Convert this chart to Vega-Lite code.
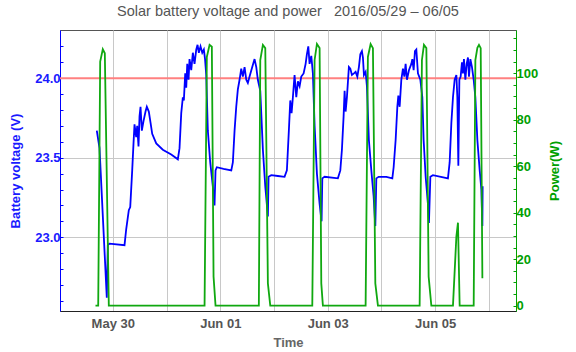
{
  "$schema": "https://vega.github.io/schema/vega-lite/v6.json",
  "width": 456,
  "height": 281,
  "autosize": "none",
  "padding": {"left": 60, "top": 30, "right": 60, "bottom": 41},
  "title": {
    "text": "Solar battery voltage and power \u00a0 2016/05/29 – 06/05",
    "fontSize": 14.5,
    "font": "Liberation Sans",
    "fontWeight": "normal",
    "color": "#555555",
    "offset": 11,
    "anchor": "middle",
    "frame": "group"
  },
  "config": {
    "font": "Liberation Sans",
    "view": {"stroke": "#555555", "strokeWidth": 1},
    "axis": {
      "labelFont": "Liberation Sans",
      "labelFontWeight": "bold",
      "labelFontSize": 13,
      "titleFont": "Liberation Sans",
      "titleFontWeight": "bold",
      "titleFontSize": 13,
      "gridColor": "#c8c8c8",
      "gridWidth": 1,
      "labelOverlap": false
    }
  },
  "datasets": {
    "voltage": [
      {"t": "2016-05-29T16:51Z", "v": 23.67},
      {"t": "2016-05-29T18:04Z", "v": 23.56},
      {"t": "2016-05-29T21:19Z", "v": 22.62},
      {"t": "2016-05-29T21:46Z", "v": 22.95},
      {"t": "2016-05-29T22:32Z", "v": 22.96},
      {"t": "2016-05-30T05:14Z", "v": 22.95},
      {"t": "2016-05-30T05:59Z", "v": 23.05},
      {"t": "2016-05-30T07:09Z", "v": 23.17},
      {"t": "2016-05-30T07:47Z", "v": 23.19},
      {"t": "2016-05-30T08:40Z", "v": 23.42},
      {"t": "2016-05-30T09:15Z", "v": 23.59},
      {"t": "2016-05-30T09:42Z", "v": 23.71},
      {"t": "2016-05-30T10:27Z", "v": 23.63},
      {"t": "2016-05-30T10:54Z", "v": 23.70},
      {"t": "2016-05-30T11:29Z", "v": 23.57},
      {"t": "2016-05-30T11:56Z", "v": 23.76},
      {"t": "2016-05-30T12:23Z", "v": 23.82},
      {"t": "2016-05-30T12:58Z", "v": 23.67},
      {"t": "2016-05-30T13:43Z", "v": 23.73},
      {"t": "2016-05-30T14:37Z", "v": 23.79},
      {"t": "2016-05-30T15:12Z", "v": 23.82},
      {"t": "2016-05-30T16:05Z", "v": 23.79},
      {"t": "2016-05-30T16:51Z", "v": 23.72},
      {"t": "2016-05-30T17:36Z", "v": 23.65},
      {"t": "2016-05-30T19:24Z", "v": 23.59},
      {"t": "2016-05-30T22:20Z", "v": 23.55},
      {"t": "2016-05-31T02:06Z", "v": 23.52},
      {"t": "2016-05-31T05:03Z", "v": 23.49},
      {"t": "2016-05-31T05:48Z", "v": 23.56},
      {"t": "2016-05-31T06:34Z", "v": 23.78},
      {"t": "2016-05-31T07:17Z", "v": 23.88},
      {"t": "2016-05-31T07:44Z", "v": 23.86},
      {"t": "2016-05-31T08:21Z", "v": 24.03},
      {"t": "2016-05-31T08:48Z", "v": 23.94},
      {"t": "2016-05-31T09:15Z", "v": 24.09},
      {"t": "2016-05-31T09:50Z", "v": 23.99},
      {"t": "2016-05-31T10:16Z", "v": 24.12},
      {"t": "2016-05-31T11:02Z", "v": 24.05},
      {"t": "2016-05-31T11:45Z", "v": 24.16},
      {"t": "2016-05-31T12:30Z", "v": 24.09},
      {"t": "2016-05-31T13:16Z", "v": 24.18},
      {"t": "2016-05-31T13:51Z", "v": 24.21},
      {"t": "2016-05-31T14:26Z", "v": 24.16},
      {"t": "2016-05-31T15:11Z", "v": 24.20},
      {"t": "2016-05-31T15:57Z", "v": 24.16},
      {"t": "2016-05-31T16:40Z", "v": 24.18},
      {"t": "2016-05-31T17:12Z", "v": 24.12},
      {"t": "2016-05-31T17:44Z", "v": 24.02},
      {"t": "2016-05-31T18:27Z", "v": 23.67},
      {"t": "2016-05-31T19:31Z", "v": 23.47},
      {"t": "2016-05-31T20:41Z", "v": 23.32},
      {"t": "2016-05-31T21:26Z", "v": 23.20},
      {"t": "2016-05-31T21:53Z", "v": 23.42},
      {"t": "2016-05-31T22:28Z", "v": 23.44},
      {"t": "2016-06-01T01:28Z", "v": 23.43},
      {"t": "2016-06-01T04:55Z", "v": 23.42},
      {"t": "2016-06-01T05:37Z", "v": 23.47},
      {"t": "2016-06-01T06:23Z", "v": 23.67},
      {"t": "2016-06-01T07:08Z", "v": 23.82},
      {"t": "2016-06-01T07:51Z", "v": 23.93},
      {"t": "2016-06-01T08:37Z", "v": 23.99},
      {"t": "2016-06-01T09:22Z", "v": 24.06},
      {"t": "2016-06-01T10:05Z", "v": 24.01},
      {"t": "2016-06-01T10:51Z", "v": 24.07},
      {"t": "2016-06-01T11:37Z", "v": 23.99},
      {"t": "2016-06-01T12:19Z", "v": 23.97},
      {"t": "2016-06-01T13:05Z", "v": 24.01},
      {"t": "2016-06-01T14:17Z", "v": 24.07},
      {"t": "2016-06-01T15:19Z", "v": 24.12},
      {"t": "2016-06-01T16:05Z", "v": 24.07},
      {"t": "2016-06-01T16:47Z", "v": 23.99},
      {"t": "2016-06-01T17:52Z", "v": 23.92},
      {"t": "2016-06-01T19:02Z", "v": 23.55},
      {"t": "2016-06-01T20:06Z", "v": 23.32},
      {"t": "2016-06-01T21:16Z", "v": 23.13},
      {"t": "2016-06-01T21:34Z", "v": 23.38},
      {"t": "2016-06-01T22:47Z", "v": 23.39},
      {"t": "2016-06-02T01:44Z", "v": 23.385},
      {"t": "2016-06-02T04:43Z", "v": 23.38},
      {"t": "2016-06-02T05:45Z", "v": 23.42},
      {"t": "2016-06-02T06:38Z", "v": 23.67},
      {"t": "2016-06-02T07:16Z", "v": 23.86},
      {"t": "2016-06-02T07:51Z", "v": 23.78},
      {"t": "2016-06-02T08:26Z", "v": 23.88},
      {"t": "2016-06-02T09:11Z", "v": 24.02},
      {"t": "2016-06-02T09:57Z", "v": 23.88},
      {"t": "2016-06-02T10:40Z", "v": 23.98},
      {"t": "2016-06-02T11:26Z", "v": 23.95},
      {"t": "2016-06-02T12:11Z", "v": 24.01},
      {"t": "2016-06-02T13:13Z", "v": 24.03},
      {"t": "2016-06-02T14:07Z", "v": 24.09},
      {"t": "2016-06-02T14:41Z", "v": 24.15},
      {"t": "2016-06-02T15:19Z", "v": 24.20},
      {"t": "2016-06-02T15:53Z", "v": 24.09},
      {"t": "2016-06-02T16:39Z", "v": 24.14},
      {"t": "2016-06-02T17:22Z", "v": 24.03},
      {"t": "2016-06-02T18:08Z", "v": 23.70},
      {"t": "2016-06-02T19:10Z", "v": 23.40},
      {"t": "2016-06-02T20:22Z", "v": 23.21},
      {"t": "2016-06-02T21:15Z", "v": 23.10},
      {"t": "2016-06-02T21:34Z", "v": 23.37},
      {"t": "2016-06-02T22:36Z", "v": 23.38},
      {"t": "2016-06-03T04:32Z", "v": 23.37},
      {"t": "2016-06-03T05:37Z", "v": 23.42},
      {"t": "2016-06-03T06:20Z", "v": 23.55},
      {"t": "2016-06-03T07:05Z", "v": 23.76},
      {"t": "2016-06-03T07:32Z", "v": 23.92},
      {"t": "2016-06-03T07:59Z", "v": 23.79},
      {"t": "2016-06-03T08:34Z", "v": 23.88},
      {"t": "2016-06-03T09:27Z", "v": 24.07},
      {"t": "2016-06-03T10:05Z", "v": 24.06},
      {"t": "2016-06-03T10:48Z", "v": 24.02},
      {"t": "2016-06-03T11:41Z", "v": 24.03},
      {"t": "2016-06-03T12:27Z", "v": 24.04},
      {"t": "2016-06-03T13:13Z", "v": 24.01},
      {"t": "2016-06-03T13:55Z", "v": 24.07},
      {"t": "2016-06-03T14:33Z", "v": 24.15},
      {"t": "2016-06-03T15:16Z", "v": 24.17},
      {"t": "2016-06-03T15:43Z", "v": 24.13},
      {"t": "2016-06-03T16:10Z", "v": 24.02},
      {"t": "2016-06-03T16:55Z", "v": 24.04},
      {"t": "2016-06-03T17:30Z", "v": 23.95},
      {"t": "2016-06-03T18:23Z", "v": 23.61},
      {"t": "2016-06-03T19:28Z", "v": 23.42},
      {"t": "2016-06-03T20:29Z", "v": 23.26},
      {"t": "2016-06-03T21:15Z", "v": 23.07},
      {"t": "2016-06-03T21:42Z", "v": 23.37},
      {"t": "2016-06-03T22:44Z", "v": 23.38},
      {"t": "2016-06-04T02:10Z", "v": 23.38},
      {"t": "2016-06-04T04:51Z", "v": 23.37},
      {"t": "2016-06-04T05:26Z", "v": 23.44},
      {"t": "2016-06-04T06:19Z", "v": 23.61},
      {"t": "2016-06-04T07:05Z", "v": 23.82},
      {"t": "2016-06-04T07:32Z", "v": 23.89},
      {"t": "2016-06-04T08:07Z", "v": 23.82},
      {"t": "2016-06-04T08:52Z", "v": 23.99},
      {"t": "2016-06-04T09:35Z", "v": 24.06},
      {"t": "2016-06-04T10:13Z", "v": 24.01},
      {"t": "2016-06-04T10:47Z", "v": 24.09},
      {"t": "2016-06-04T11:22Z", "v": 23.99},
      {"t": "2016-06-04T12:16Z", "v": 24.05},
      {"t": "2016-06-04T13:20Z", "v": 24.09},
      {"t": "2016-06-04T13:47Z", "v": 24.12},
      {"t": "2016-06-04T14:22Z", "v": 24.05},
      {"t": "2016-06-04T14:57Z", "v": 24.17},
      {"t": "2016-06-04T15:34Z", "v": 24.18},
      {"t": "2016-06-04T16:17Z", "v": 24.03},
      {"t": "2016-06-04T17:22Z", "v": 23.99},
      {"t": "2016-06-04T18:15Z", "v": 23.88},
      {"t": "2016-06-04T18:50Z", "v": 23.61},
      {"t": "2016-06-04T19:44Z", "v": 23.38},
      {"t": "2016-06-04T20:45Z", "v": 23.21},
      {"t": "2016-06-04T21:12Z", "v": 23.09},
      {"t": "2016-06-04T21:50Z", "v": 23.38},
      {"t": "2016-06-04T22:59Z", "v": 23.39},
      {"t": "2016-06-05T05:41Z", "v": 23.37},
      {"t": "2016-06-05T06:27Z", "v": 23.47},
      {"t": "2016-06-05T07:13Z", "v": 23.72},
      {"t": "2016-06-05T07:56Z", "v": 23.88},
      {"t": "2016-06-05T08:41Z", "v": 23.99},
      {"t": "2016-06-05T09:27Z", "v": 24.02},
      {"t": "2016-06-05T09:53Z", "v": 23.88},
      {"t": "2016-06-05T10:20Z", "v": 23.45},
      {"t": "2016-06-05T10:47Z", "v": 23.99},
      {"t": "2016-06-05T11:22Z", "v": 24.01},
      {"t": "2016-06-05T11:57Z", "v": 24.10},
      {"t": "2016-06-05T12:23Z", "v": 24.03},
      {"t": "2016-06-05T12:50Z", "v": 24.12},
      {"t": "2016-06-05T13:28Z", "v": 23.99},
      {"t": "2016-06-05T14:03Z", "v": 24.09},
      {"t": "2016-06-05T14:38Z", "v": 24.13},
      {"t": "2016-06-05T15:05Z", "v": 24.01},
      {"t": "2016-06-05T15:42Z", "v": 24.12},
      {"t": "2016-06-05T16:25Z", "v": 24.07},
      {"t": "2016-06-05T17:11Z", "v": 23.99},
      {"t": "2016-06-05T17:56Z", "v": 23.88},
      {"t": "2016-06-05T18:50Z", "v": 23.61},
      {"t": "2016-06-05T19:52Z", "v": 23.42},
      {"t": "2016-06-05T20:37Z", "v": 23.30},
      {"t": "2016-06-05T21:04Z", "v": 23.07},
      {"t": "2016-06-05T21:11Z", "v": 23.32}
    ],
    "power": [
      {"t": "2016-05-29T16:16Z", "w": 0},
      {"t": "2016-05-29T17:29Z", "w": 0},
      {"t": "2016-05-29T18:22Z", "w": 105},
      {"t": "2016-05-29T19:32Z", "w": 110.3},
      {"t": "2016-05-29T20:26Z", "w": 108.6},
      {"t": "2016-05-29T22:13Z", "w": 0},
      {"t": "2016-05-31T16:59Z", "w": 0},
      {"t": "2016-05-31T18:00Z", "w": 107},
      {"t": "2016-05-31T19:13Z", "w": 112.2},
      {"t": "2016-05-31T20:14Z", "w": 111.4},
      {"t": "2016-05-31T21:00Z", "w": 12.5},
      {"t": "2016-05-31T21:53Z", "w": 0},
      {"t": "2016-06-01T17:14Z", "w": 0},
      {"t": "2016-06-01T17:52Z", "w": 105.7},
      {"t": "2016-06-01T19:02Z", "w": 112.2},
      {"t": "2016-06-01T20:06Z", "w": 110.8},
      {"t": "2016-06-01T21:16Z", "w": 9.6},
      {"t": "2016-06-01T22:20Z", "w": 0},
      {"t": "2016-06-02T17:06Z", "w": 0},
      {"t": "2016-06-02T18:08Z", "w": 105.7},
      {"t": "2016-06-02T19:10Z", "w": 112.6},
      {"t": "2016-06-02T20:22Z", "w": 110.8},
      {"t": "2016-06-02T21:07Z", "w": 9.6},
      {"t": "2016-06-02T21:50Z", "w": 0},
      {"t": "2016-06-03T16:55Z", "w": 0},
      {"t": "2016-06-03T17:56Z", "w": 107},
      {"t": "2016-06-03T19:09Z", "w": 112.6},
      {"t": "2016-06-03T20:11Z", "w": 110.8},
      {"t": "2016-06-03T21:15Z", "w": 9.6},
      {"t": "2016-06-03T22:25Z", "w": 0},
      {"t": "2016-06-04T17:03Z", "w": 0},
      {"t": "2016-06-04T18:04Z", "w": 105.7},
      {"t": "2016-06-04T18:58Z", "w": 112.2},
      {"t": "2016-06-04T20:03Z", "w": 110.8},
      {"t": "2016-06-04T21:04Z", "w": 12.5},
      {"t": "2016-06-04T22:16Z", "w": 0},
      {"t": "2016-06-05T07:56Z", "w": 0},
      {"t": "2016-06-05T09:27Z", "w": 29.7},
      {"t": "2016-06-05T10:10Z", "w": 35.7},
      {"t": "2016-06-05T10:55Z", "w": 0},
      {"t": "2016-06-05T17:11Z", "w": 0},
      {"t": "2016-06-05T17:56Z", "w": 105.7},
      {"t": "2016-06-05T18:50Z", "w": 110.9},
      {"t": "2016-06-05T19:33Z", "w": 112.2},
      {"t": "2016-06-05T20:19Z", "w": 110.8},
      {"t": "2016-06-05T21:04Z", "w": 11.8}
    ]
  },
  "layer": [
    {
      "layer": [
        {
          "data": {"values": [{"v": 24.0}]},
          "mark": {"type": "rule", "color": "#ff8080", "strokeWidth": 2},
          "encoding": {
            "y": {
              "field": "v",
              "type": "quantitative",
              "scale": {"domain": [22.536, 24.303], "zero": false, "nice": false},
              "axis": {
                "orient": "left",
                "title": "Battery voltage (V)",
                "titleColor": "#1a1aff",
                "labelColor": "#1a1aff",
                "domainColor": "#0000ff",
                "tickColor": "#0000ff",
                "tickSize": -3,
                "labelPadding": 3,
                "titlePadding": 12,
                "labelOverlap": false,
                "values": [22.6, 22.7, 22.8, 22.9, 23.0, 23.1, 23.2, 23.3, 23.4, 23.5, 23.6, 23.7, 23.8, 23.9, 24.0, 24.1, 24.2],
                "labelExpr": "indexof(['23.0', '23.5', '24.0'], format(datum.value, '.1f')) >= 0 ? format(datum.value, '.1f') : ''",
                "gridOpacity": {"condition": {"test": "indexof(['23.0', '23.5', '24.0'], format(datum.value, '.1f')) >= 0", "value": 1}, "value": 0}
              }
            }
          }
        },
        {
          "data": {"name": "voltage"},
          "mark": {"type": "line", "color": "#0000ff", "strokeWidth": 1.8},
          "encoding": {
            "x": {
              "field": "t",
              "type": "temporal",
              "scale": {
                "type": "utc",
                "domain": [
                  {"year": 2016, "month": 5, "date": 29, "hours": 0, "minutes": 25, "utc": true},
                  {"year": 2016, "month": 6, "date": 6, "hours": 12, "minutes": 5, "utc": true}
                ]
              },
              "axis": {
                "title": "Time",
                "titleColor": "#666666",
                "labelColor": "#555555",
                "domainColor": "#222222",
                "ticks": false,
                "grid": true,
                "labelPadding": 6,
                "titlePadding": 6,
                "values": [
                  {"year": 2016, "month": 5, "date": 30, "utc": true},
                  {"year": 2016, "month": 5, "date": 31, "utc": true},
                  {"year": 2016, "month": 6, "date": 1, "utc": true},
                  {"year": 2016, "month": 6, "date": 2, "utc": true},
                  {"year": 2016, "month": 6, "date": 3, "utc": true},
                  {"year": 2016, "month": 6, "date": 4, "utc": true},
                  {"year": 2016, "month": 6, "date": 5, "utc": true},
                  {"year": 2016, "month": 6, "date": 6, "utc": true}
                ],
                "labelExpr": "round((datum.value - 1464566400000) / 86400000) % 2 == 0 ? utcFormat(datum.value, '%b %d') : ''"
              }
            },
            "y": {
              "field": "v",
              "type": "quantitative",
              "scale": {"domain": [22.536, 24.303], "zero": false, "nice": false},
              "axis": {
                "orient": "left",
                "title": "Battery voltage (V)",
                "titleColor": "#1a1aff",
                "labelColor": "#1a1aff",
                "domainColor": "#0000ff",
                "tickColor": "#0000ff",
                "tickSize": -3,
                "labelPadding": 3,
                "titlePadding": 12,
                "labelOverlap": false,
                "values": [22.6, 22.7, 22.8, 22.9, 23.0, 23.1, 23.2, 23.3, 23.4, 23.5, 23.6, 23.7, 23.8, 23.9, 24.0, 24.1, 24.2],
                "labelExpr": "indexof(['23.0', '23.5', '24.0'], format(datum.value, '.1f')) >= 0 ? format(datum.value, '.1f') : ''",
                "gridOpacity": {"condition": {"test": "indexof(['23.0', '23.5', '24.0'], format(datum.value, '.1f')) >= 0", "value": 1}, "value": 0}
              }
            }
          }
        }
      ]
    },
    {
      "data": {"name": "power"},
      "mark": {"type": "line", "color": "#10a810", "strokeWidth": 1.8},
      "encoding": {
        "x": {
          "field": "t",
          "type": "temporal",
          "scale": {
            "type": "utc",
            "domain": [
              {"year": 2016, "month": 5, "date": 29, "hours": 0, "minutes": 25, "utc": true},
              {"year": 2016, "month": 6, "date": 6, "hours": 12, "minutes": 5, "utc": true}
            ]
          }
        },
        "y": {
          "field": "w",
          "type": "quantitative",
          "scale": {"domain": [-2.3, 118.6], "zero": false, "nice": false},
          "axis": {
            "orient": "right",
            "title": "Power(W)",
            "titleAngle": -90,
            "titleColor": "#00a000",
            "labelColor": "#00a000",
            "domainColor": "#00a000",
            "tickColor": "#00a000",
            "tickSize": -3,
            "labelPadding": 3,
            "titlePadding": 24,
            "labelOverlap": false,
            "grid": false,
            "values": [0, 5, 10, 15, 20, 25, 30, 35, 40, 45, 50, 55, 60, 65, 70, 75, 80, 85, 90, 95, 100, 105, 110, 115],
            "labelExpr": "datum.value % 20 == 0 ? format(datum.value, 'd') : ''"
          }
        }
      }
    }
  ],
  "resolve": {"scale": {"y": "independent"}}
}
